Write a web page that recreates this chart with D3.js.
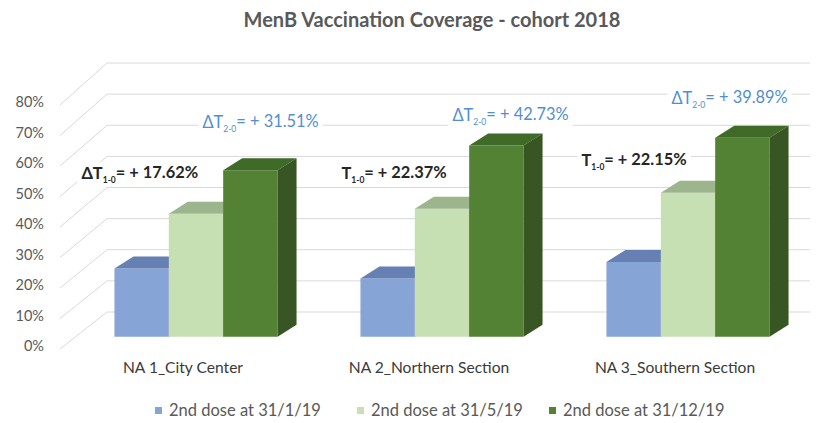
<!DOCTYPE html>
<html><head><meta charset="utf-8">
<script src="https://cdn.jsdelivr.net/npm/d3@7"></script>
<style>body{margin:0;background:#fff;} svg{display:block;font-family:Lato,"Open Sans",sans-serif;}</style>
</head><body><svg id="c" width="838" height="423"></svg>
<script>
// ---- data ----
const categories = ["NA 1_City Center", "NA 2_Northern Section", "NA 3_Southern Section"];
const seriesNames = ["2nd dose at 31/1/19", "2nd dose at 31/5/19", "2nd dose at 31/12/19"];
const dose31Jan19 = [21.9, 18.7, 24.0];
const dose31May19 = [39.5, 41.1, 46.2];
const dose31Dec19 = [53.4, 61.4, 63.9];
const yTickValues = [0, 10, 20, 30, 40, 50, 60, 70, 80];
const delta10Labels = ["ΔT", "T", "T"];
const delta10Values = [17.62, 22.37, 22.15];
const delta20Values = [31.51, 42.73, 39.89];
const titleText = "MenB Vaccination Coverage - cohort 2018";

// ---- layout / style ----
const W = 838, H = 423;
const depthX = 19, depthY = -12;
const faceColors = [
  {front: "#87a4d6", top: "#6680b4", side: "#5f78aa"},
  {front: "#c6e0b4", top: "#9db58d", side: "#93ab82"},
  {front: "#548235", top: "#3f6a27", side: "#375623"}
];
const legendColors = ["#87a4d6", "#c6e0b4", "#548235"];
const annoLayout = {
  black: [{dx: -33, y: 173}, {dx: -19, y: 173}, {dx: -25, y: 160}],
  blue:  [{dx: 88, y: 122}, {dx: 92, y: 115}, {dx: 65, y: 98}]
};

const series = [dose31Jan19, dose31May19, dose31Dec19];
const svg = d3.select("#c");

const x = d3.scaleBand().domain(categories).range([73, 811]).paddingInner(0.337).paddingOuter(0.1685);
const xs = d3.scaleBand().domain(d3.range(seriesNames.length)).range([0, x.bandwidth()]).padding(0);
const y = d3.scaleLinear().domain([0, 80]).range([336.7, 336.7 - 80 * 3.115]);
const yBack = d3.scaleLinear().domain([0, 80]).range([312, 63]);
const yLabel = d3.scaleLinear().domain([0, 80]).range([346, 102]);

// title
svg.append("text").attr("x", 432).attr("y", 27).attr("text-anchor", "middle")
  .attr("font-size", 20).attr("font-weight", "bold").attr("fill", "#595959").text(titleText);

// gridlines (left wall diagonal + back wall)
const grid = svg.append("g").attr("stroke", "#d9d9d9").attr("stroke-width", 1).attr("fill", "none");
yTickValues.forEach(v => {
  grid.append("path").attr("d", `M60,${yLabel(v) + 3}L107,${yBack(v)}L810,${yBack(v)}`);
});

// y axis labels
const yAxis = svg.append("g").attr("transform", "translate(44,0)")
  .call(d3.axisLeft(yLabel).tickValues(yTickValues).tickFormat(d => d + "%").tickSize(0).tickPadding(0));
yAxis.select(".domain").remove();
yAxis.selectAll("text").attr("font-size", 14.5).attr("fill", "#595959").attr("font-family", "Lato,'Open Sans',sans-serif");

// bars
const bars = svg.append("g");
categories.forEach((cat, ci) => {
  series.forEach((vals, si) => {
    const x0 = x(cat) + xs(si), x1 = x0 + xs.bandwidth();
    const yt = y(vals[ci]), yb = y(0);
    const c = faceColors[si];
    bars.append("path").attr("fill", c.front)
      .attr("d", `M${x0},${yb}L${x0},${yt}L${x1},${yt}L${x1},${yb}Z`);
    bars.append("path").attr("fill", c.top)
      .attr("d", `M${x0},${yt}L${x0 + depthX},${yt + depthY}L${x1 + depthX},${yt + depthY}L${x1},${yt}Z`);
    bars.append("path").attr("fill", c.side)
      .attr("d", `M${x1},${yt}L${x1 + depthX},${yt + depthY}L${x1 + depthX},${yb + depthY}L${x1},${yb}Z`);
  });
});

// category labels
const xLabel = x.copy().range([73 - 13, 811 - 13]);
const xAxis = svg.append("g").attr("transform", "translate(0,362)")
  .call(d3.axisBottom(xLabel).tickSize(0).tickPadding(0));
xAxis.select(".domain").remove();
xAxis.selectAll("text").attr("font-size", 15.6).attr("fill", "#3a3a3a").attr("font-family", "Lato,'Open Sans',sans-serif");

// annotations
function annotate(g, prefix, sub, value, ax, ay, color, weight) {
  const t = g.append("text").attr("x", ax).attr("y", ay).attr("dy", "0.35em")
    .attr("font-size", 16.4).attr("font-weight", weight).attr("fill", color);
  t.append("tspan").text(prefix);
  t.append("tspan").attr("font-size", 8.5).attr("dy", "0.45em").text(sub);
  t.append("tspan").attr("dy", "-0.25em").text("= + " + value.toFixed(2) + "%");
  const bb = t.node().getBBox();
  g.insert("rect", () => t.node()).attr("x", bb.x - 4).attr("y", bb.y).attr("width", bb.width + 8)
    .attr("height", bb.height).attr("fill", "#fff");
}
const annoG = svg.append("g");
categories.forEach((cat, ci) => {
  const gx = x(cat);
  annotate(annoG.append("g"), delta10Labels[ci], "1-0", delta10Values[ci],
    gx + annoLayout.black[ci].dx, annoLayout.black[ci].y, "#262626", "bold");
  annotate(annoG.append("g"), "ΔT", "2-0", delta20Values[ci],
    gx + annoLayout.blue[ci].dx, annoLayout.blue[ci].y, "#4f8fd2", "normal");
});

// legend
const legendX = [155, 357, 549];
const lg = svg.append("g");
seriesNames.forEach((name, i) => {
  lg.append("rect").attr("x", legendX[i]).attr("y", 407).attr("width", 7).attr("height", 7).attr("fill", legendColors[i]);
  lg.append("text").attr("x", legendX[i] + 14).attr("y", 410.5).attr("dy", "0.35em")
    .attr("font-size", 16.5).attr("fill", "#595959").text(name);
});
</script></body></html>
